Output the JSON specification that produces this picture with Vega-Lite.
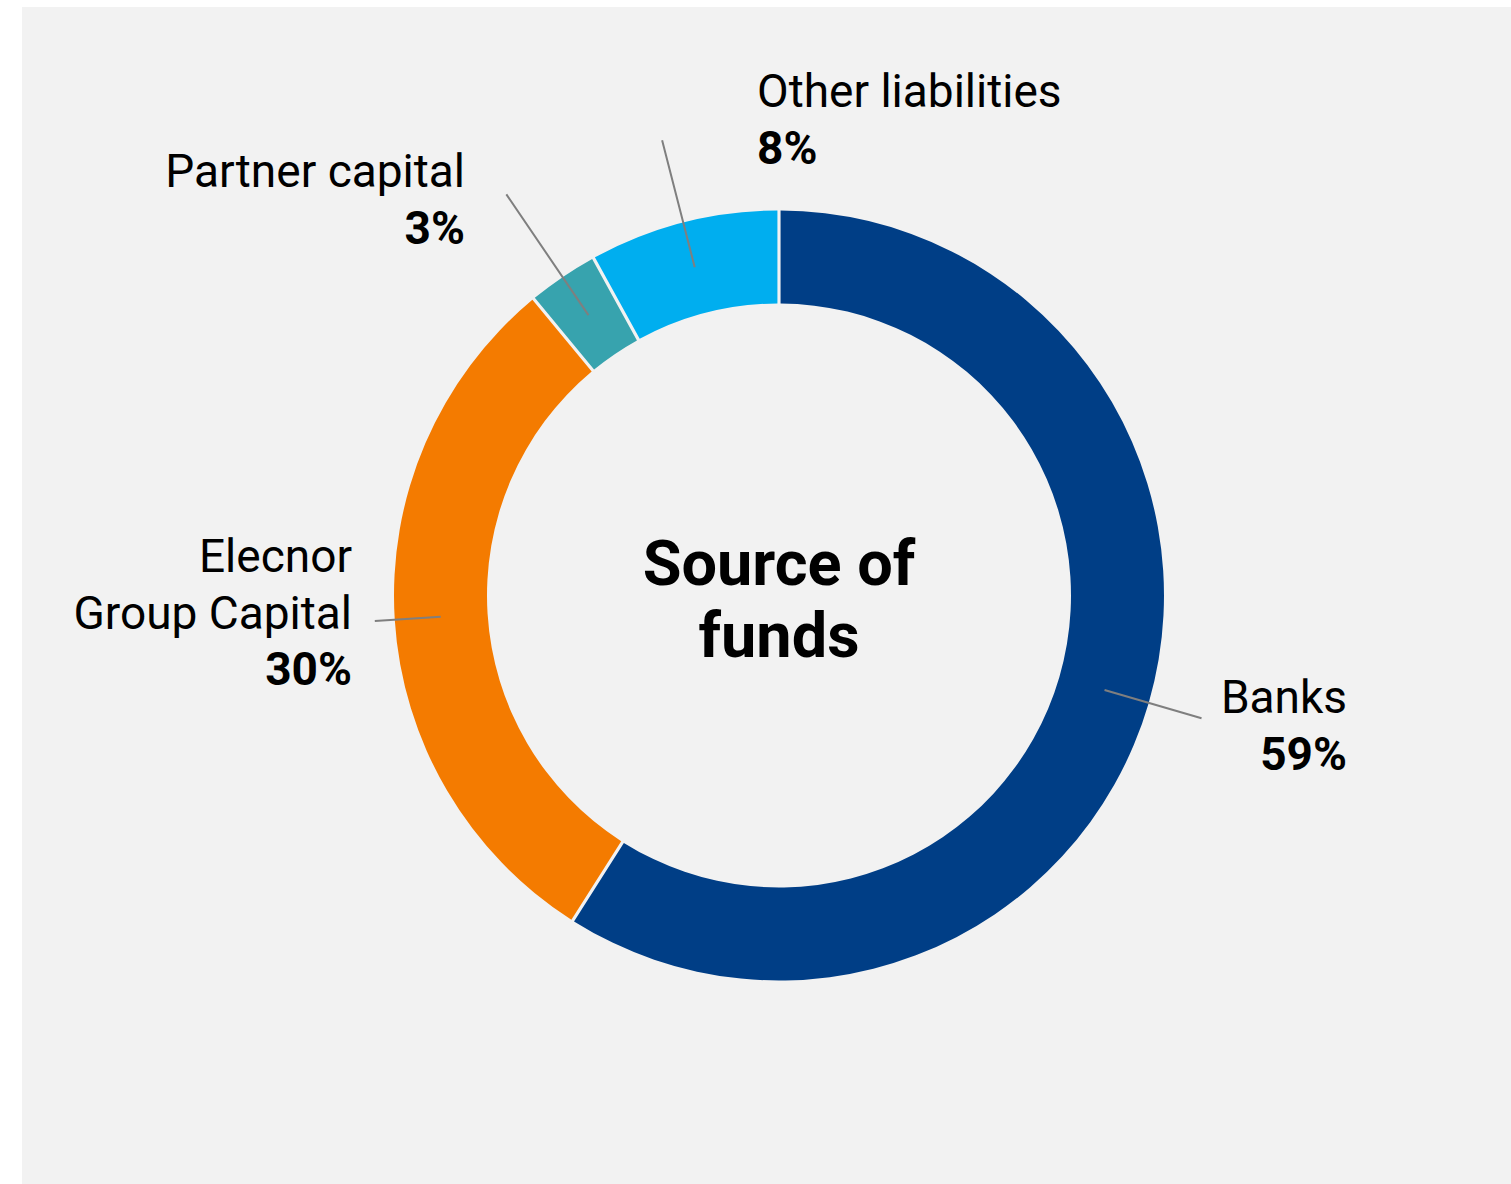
{
  "$schema": "https://vega.github.io/schema/vega-lite/v6.json",
  "width": 1464,
  "height": 1127,
  "autosize": {"type": "none"},
  "padding": {"left": 47, "top": 32, "right": 0, "bottom": 25},
  "background": "white",
  "view": {"fill": "#F2F2F2", "stroke": "#F2F2F2", "strokeWidth": 50},
  "config": {"text": {"font": "Roboto", "color": "#000000"}},
  "data": {"values": [
    {"source": "Banks", "label": "Banks", "pct": "59%", "share": 59, "rank": 1},
    {"source": "Elecnor Group Capital", "label": ["Elecnor", "Group Capital"], "pct": "30%", "share": 30, "rank": 2},
    {"source": "Partner capital", "label": "Partner capital", "pct": "3%", "share": 3, "rank": 3},
    {"source": "Other liabilities", "label": "Other liabilities", "pct": "8%", "share": 8, "rank": 4}
  ]},
  "layer": [
    {
      "mark": {"type": "arc", "outerRadius": 385, "innerRadius": 292, "padAngle": 0.0065},
      "encoding": {
        "theta": {"field": "share", "type": "quantitative", "stack": true},
        "order": {"field": "rank", "type": "quantitative"},
        "color": {"field": "source", "type": "nominal", "legend": null,
          "scale": {"domain": ["Banks", "Elecnor Group Capital", "Partner capital", "Other liabilities"],
                    "range": ["#003E86", "#F47B00", "#37A3AE", "#00AEEF"]}}
      }
    },
    {
      "transform": [
        {"stack": "share", "groupby": [], "sort": [{"field": "rank", "order": "ascending"}], "as": ["s0", "s1"]},
        {"filter": "datum.source === 'Banks'"}
      ],
      "mark": {"type": "arc", "outerRadius": 440, "innerRadius": 339, "padAngle": 3, "thetaOffset": 1.2, "theta2Offset": -1.2, "fillOpacity": 0, "stroke": "#7F7F7F", "strokeWidth": 2},
      "encoding": {
        "theta": {"field": "s0", "type": "quantitative", "stack": null},
        "theta2": {"field": "s1"}
      }
    },
    {
      "mark": {"type": "arc", "outerRadius": 405, "innerRadius": 339, "padAngle": 3, "fillOpacity": 0, "stroke": "#7F7F7F", "strokeWidth": 2},
      "encoding": {
        "theta": {"field": "share", "type": "quantitative", "stack": true},
        "order": {"field": "rank", "type": "quantitative"},
        "detail": {"field": "source", "type": "nominal"},
        "strokeOpacity": {"condition": {"test": "datum.source === 'Elecnor Group Capital'", "value": 1}, "value": 0}
      }
    },
    {
      "mark": {"type": "arc", "outerRadius": 485, "innerRadius": 339, "padAngle": 3, "fillOpacity": 0, "stroke": "#7F7F7F", "strokeWidth": 2},
      "encoding": {
        "theta": {"field": "share", "type": "quantitative", "stack": true},
        "order": {"field": "rank", "type": "quantitative"},
        "detail": {"field": "source", "type": "nominal"},
        "strokeOpacity": {"condition": {"test": "datum.source === 'Partner capital'", "value": 1}, "value": 0}
      }
    },
    {
      "mark": {"type": "arc", "outerRadius": 470, "innerRadius": 339, "padAngle": 3, "fillOpacity": 0, "stroke": "#7F7F7F", "strokeWidth": 2},
      "encoding": {
        "theta": {"field": "share", "type": "quantitative", "stack": true},
        "order": {"field": "rank", "type": "quantitative"},
        "detail": {"field": "source", "type": "nominal"},
        "strokeOpacity": {"condition": {"test": "datum.source === 'Other liabilities'", "value": 1}, "value": 0}
      }
    },
    {
      "mark": {"type": "text", "radius": 440, "align": "right", "baseline": "alphabetic", "dx": 145.5, "dy": -5.3, "fontSize": 46, "lineHeight": 57},
      "encoding": {
        "theta": {"field": "share", "type": "quantitative", "stack": true},
        "order": {"field": "rank", "type": "quantitative"},
        "detail": {"field": "source", "type": "nominal"},
        "text": {"condition": {"test": "datum.source === 'Banks'", "field": "label"}, "value": ""}
      }
    },
    {
      "mark": {"type": "text", "radius": 440, "align": "right", "baseline": "alphabetic", "dx": 145.5, "dy": 51.7, "fontSize": 46, "fontWeight": "bold"},
      "encoding": {
        "theta": {"field": "share", "type": "quantitative", "stack": true},
        "order": {"field": "rank", "type": "quantitative"},
        "detail": {"field": "source", "type": "nominal"},
        "text": {"condition": {"test": "datum.source === 'Banks'", "field": "pct"}, "value": ""}
      }
    },
    {
      "mark": {"type": "text", "radius": 405, "align": "right", "baseline": "alphabetic", "dx": -22.8, "dy": -48.9, "fontSize": 46, "lineHeight": 57},
      "encoding": {
        "theta": {"field": "share", "type": "quantitative", "stack": true},
        "order": {"field": "rank", "type": "quantitative"},
        "detail": {"field": "source", "type": "nominal"},
        "text": {"condition": {"test": "datum.source === 'Elecnor Group Capital'", "field": "label"}, "value": ""}
      }
    },
    {
      "mark": {"type": "text", "radius": 405, "align": "right", "baseline": "alphabetic", "dx": -22.8, "dy": 64.1, "fontSize": 46, "fontWeight": "bold"},
      "encoding": {
        "theta": {"field": "share", "type": "quantitative", "stack": true},
        "order": {"field": "rank", "type": "quantitative"},
        "detail": {"field": "source", "type": "nominal"},
        "text": {"condition": {"test": "datum.source === 'Elecnor Group Capital'", "field": "pct"}, "value": ""}
      }
    },
    {
      "mark": {"type": "text", "radius": 480, "align": "right", "baseline": "alphabetic", "dx": -44.2, "dy": -11.5, "fontSize": 46, "lineHeight": 57},
      "encoding": {
        "theta": {"field": "share", "type": "quantitative", "stack": true},
        "order": {"field": "rank", "type": "quantitative"},
        "detail": {"field": "source", "type": "nominal"},
        "text": {"condition": {"test": "datum.source === 'Partner capital'", "field": "label"}, "value": ""}
      }
    },
    {
      "mark": {"type": "text", "radius": 480, "align": "right", "baseline": "alphabetic", "dx": -44.2, "dy": 45.5, "fontSize": 46, "fontWeight": "bold"},
      "encoding": {
        "theta": {"field": "share", "type": "quantitative", "stack": true},
        "order": {"field": "rank", "type": "quantitative"},
        "detail": {"field": "source", "type": "nominal"},
        "text": {"condition": {"test": "datum.source === 'Partner capital'", "field": "pct"}, "value": ""}
      }
    },
    {
      "mark": {"type": "text", "radius": 470, "align": "left", "baseline": "alphabetic", "dx": 94.9, "dy": -33.3, "fontSize": 46, "lineHeight": 57},
      "encoding": {
        "theta": {"field": "share", "type": "quantitative", "stack": true},
        "order": {"field": "rank", "type": "quantitative"},
        "detail": {"field": "source", "type": "nominal"},
        "text": {"condition": {"test": "datum.source === 'Other liabilities'", "field": "label"}, "value": ""}
      }
    },
    {
      "mark": {"type": "text", "radius": 470, "align": "left", "baseline": "alphabetic", "dx": 94.9, "dy": 23.7, "fontSize": 46, "fontWeight": "bold"},
      "encoding": {
        "theta": {"field": "share", "type": "quantitative", "stack": true},
        "order": {"field": "rank", "type": "quantitative"},
        "detail": {"field": "source", "type": "nominal"},
        "text": {"condition": {"test": "datum.source === 'Other liabilities'", "field": "pct"}, "value": ""}
      }
    },
    {
      "data": {"values": [{"title": "Source of funds"}]},
      "mark": {"type": "text", "text": ["Source of", "funds"], "align": "center", "baseline": "alphabetic", "dy": -10.5, "fontSize": 63, "fontWeight": "bold", "lineHeight": 72},
      "encoding": {}
    }
  ]
}
